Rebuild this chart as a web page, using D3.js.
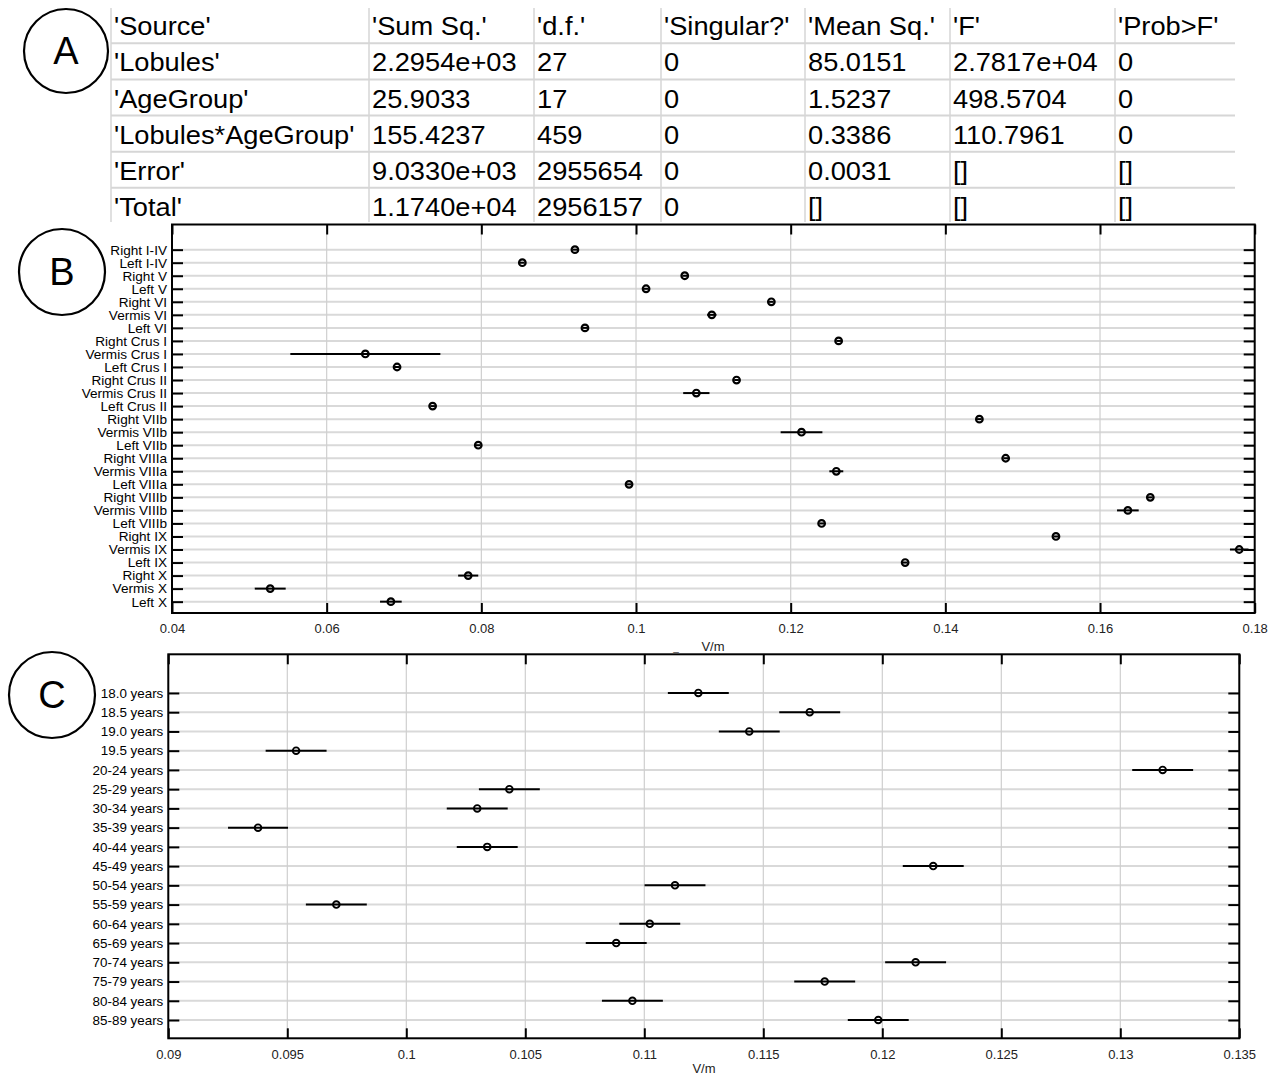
<!DOCTYPE html>
<html><head><meta charset="utf-8">
<script src="https://cdn.jsdelivr.net/npm/d3@7"></script>
<style>body{margin:0;background:#fff}svg{display:block}text{font-family:"Liberation Sans",Arial,sans-serif}</style>
</head><body><svg id="c" width="1271" height="1076"></svg>
<script>
// ---------- Data ----------
const tableHeader = ["'Source'","'Sum Sq.'","'d.f.'","'Singular?'","'Mean Sq.'","'F'","'Prob>F'"];
const tableRows = [
  ["'Lobules'","2.2954e+03","27","0","85.0151","2.7817e+04","0"],
  ["'AgeGroup'","25.9033","17","0","1.5237","498.5704","0"],
  ["'Lobules*AgeGroup'","155.4237","459","0","0.3386","110.7961","0"],
  ["'Error'","9.0330e+03","2955654","0","0.0031","[]","[]"],
  ["'Total'","1.1740e+04","2956157","0","[]","[]","[]"]
];
const lobules = ["Right I-IV","Left I-IV","Right V","Left V","Right VI","Vermis VI","Left VI","Right Crus I","Vermis Crus I","Left Crus I","Right Crus II","Vermis Crus II","Left Crus II","Right VIIb","Vermis VIIb","Left VIIb","Right VIIIa","Vermis VIIIa","Left VIIIa","Right VIIIb","Vermis VIIIb","Left VIIIb","Right IX","Vermis IX","Left IX","Right X","Vermis X","Left X"];
const lobuleMean = [0.0921,0.0853,0.1063,0.1013,0.1175,0.1098,0.0934,0.1262,0.0650,0.0691,0.1130,0.1078,0.0737,0.1444,0.1214,0.0796,0.1478,0.1259,0.0991,0.1665,0.1636,0.1240,0.1543,0.1780,0.1348,0.0783,0.0527,0.0683];
const lobuleErr  = [0.0003,0.0003,0.0003,0.0003,0.0003,0.0006,0.0003,0.0003,0.0097,0.0003,0.0003,0.0017,0.0003,0.0003,0.0027,0.0003,0.0003,0.0009,0.0003,0.0003,0.0014,0.0003,0.0003,0.0012,0.0003,0.0013,0.0020,0.0014];
const ageGroups = ["18.0 years","18.5 years","19.0 years","19.5 years","20-24 years","25-29 years","30-34 years","35-39 years","40-44 years","45-49 years","50-54 years","55-59 years","60-64 years","65-69 years","70-74 years","75-79 years","80-84 years","85-89 years"];
const ageMean = [0.11227,0.11695,0.11441,0.09537,0.13178,0.10433,0.10298,0.09377,0.10340,0.12214,0.11129,0.09706,0.11023,0.10882,0.12140,0.11758,0.10950,0.11983];
const ageErr  = [0.00128,0.00128,0.00128,0.00128,0.00128,0.00128,0.00128,0.00126,0.00128,0.00128,0.00128,0.00128,0.00128,0.00128,0.00128,0.00128,0.00128,0.00128];
const bTicks = [0.04,0.06,0.08,0.10,0.12,0.14,0.16,0.18];
const cTicks = [0.09,0.095,0.10,0.105,0.11,0.115,0.12,0.125,0.13,0.135];
const panelLetters = ["A","B","C"];

// ---------- Drawing ----------
const svg = d3.select("#c");
svg.append("rect").attr("width",1271).attr("height",1076).attr("fill","#fff");
const fmt = d => String(+d.toFixed(3));

// Table (panel A)
const colX = [111,369,534,661,805,950,1115];
const lineYs = [43.3,79.4,115.6,151.8,187.8];
const tg = svg.append("g");
colX.forEach(x => tg.append("line").attr("x1",x).attr("x2",x).attr("y1",8).attr("y2",222).attr("stroke","#d6d6d6").attr("stroke-width",1.5));
lineYs.forEach(y => tg.append("line").attr("x1",111).attr("x2",1235).attr("y1",y).attr("y2",y).attr("stroke","#d6d6d6").attr("stroke-width",2));
[tableHeader].concat(tableRows).forEach((row,ri) => {
  row.forEach((cell,ci) => {
    tg.append("text").attr("transform",`translate(${colX[ci]+3},${35+ri*36.25}) scale(1.09,1)`).attr("font-size",25).attr("fill","#000").text(cell);
  });
});

// Panel letters
const circles = [{cx:66,cy:51,r:42},{cx:62,cy:272,r:43},{cx:52,cy:695,r:43}];
circles.forEach((c,i) => {
  svg.append("ellipse").attr("cx",c.cx).attr("cy",c.cy).attr("rx",c.r).attr("ry",c.r).attr("fill","none").attr("stroke","#000").attr("stroke-width",2.2);
  svg.append("text").attr("x",c.cx).attr("y",c.cy+13).attr("text-anchor","middle").attr("font-size",38).text(panelLetters[i]);
});

function panel(cfg){
  const {names,means,errs,ticks,left,right,top,bottom,yDomain,r} = cfg;
  const g = svg.append("g");
  const x = d3.scaleLinear().domain([ticks[0],ticks[ticks.length-1]]).range([left,right]);
  const idx = names.map((_,i)=>i);
  const y = d3.scaleLinear().domain(yDomain).range([top,bottom]);
  // grid
  g.selectAll(".hg").data(idx).join("line").attr("x1",left).attr("x2",right).attr("y1",i=>y(i)).attr("y2",i=>y(i)).attr("stroke","#d9d9d9").attr("stroke-width",2);
  g.selectAll(".vg").data(ticks).join("line").attr("x1",d=>x(d)).attr("x2",d=>x(d)).attr("y1",top).attr("y2",bottom).attr("stroke","#cfcfcf").attr("stroke-width",1.2);
  // axes
  const ax = (a,tr) => { const s = g.append("g").attr("transform",tr).call(a); s.select(".domain").remove(); s.selectAll(".tick line").attr("stroke","#000").attr("stroke-width",2); return s; };
  const bx = ax(d3.axisBottom(x).tickValues(ticks).tickFormat(fmt).tickSizeInner(-10).tickSizeOuter(0).tickPadding(11),`translate(0,${bottom})`);
  bx.selectAll("text").attr("font-size",13).attr("fill","#222").attr("font-family","Liberation Sans, Arial");
  ax(d3.axisTop(x).tickValues(ticks).tickFormat("").tickSizeInner(-10).tickSizeOuter(0),`translate(0,${top})`);
  const ly = ax(d3.axisLeft(y).tickValues(idx).tickFormat(i=>names[i]).tickSizeInner(-11).tickSizeOuter(0).tickPadding(5),`translate(${left},0)`);
  ly.selectAll("text").attr("font-size",cfg.yfs).attr("fill","#000").attr("font-family","Liberation Sans, Arial");
  ax(d3.axisRight(y).tickValues(idx).tickFormat("").tickSizeInner(-11).tickSizeOuter(0),`translate(${right},0)`);
  g.append("rect").attr("x",left).attr("y",top).attr("width",right-left).attr("height",bottom-top).attr("fill","none").attr("stroke","#000").attr("stroke-width",2);
  // error bars + markers
  g.selectAll(".eb").data(idx).join("line").attr("x1",i=>x(means[i]-errs[i])).attr("x2",i=>x(means[i]+errs[i])).attr("y1",i=>y(i)).attr("y2",i=>y(i)).attr("stroke","#000").attr("stroke-width",2);
  g.selectAll(".mk").data(idx).join("circle").attr("cx",i=>x(means[i])).attr("cy",i=>y(i)).attr("r",r).attr("fill","none").attr("stroke","#000").attr("stroke-width",cfg.mw);
  g.append("text").attr("x",cfg.xlabX).attr("y",cfg.xlabY).attr("text-anchor","middle").attr("font-size",13).attr("fill","#222").text("V/m");
}

panel({names:lobules,means:lobuleMean,errs:lobuleErr,ticks:bTicks,left:172,right:1254.7,top:224.5,bottom:613,yDomain:[-1.93,27.87],r:3.3,mw:2.2,xlabX:713,xlabY:651,yfs:13.6});
panel({names:ageGroups,means:ageMean,errs:ageErr,ticks:cTicks,left:168.3,right:1239.3,top:654.3,bottom:1038.3,yDomain:[-2.01,17.95],r:3.3,mw:1.9,xlabX:704,xlabY:1073,yfs:13.4});
svg.append("text").attr("x",676).attr("y",651).attr("text-anchor","middle").attr("font-size",10).attr("fill","#444").text("_");
</script></body></html>
